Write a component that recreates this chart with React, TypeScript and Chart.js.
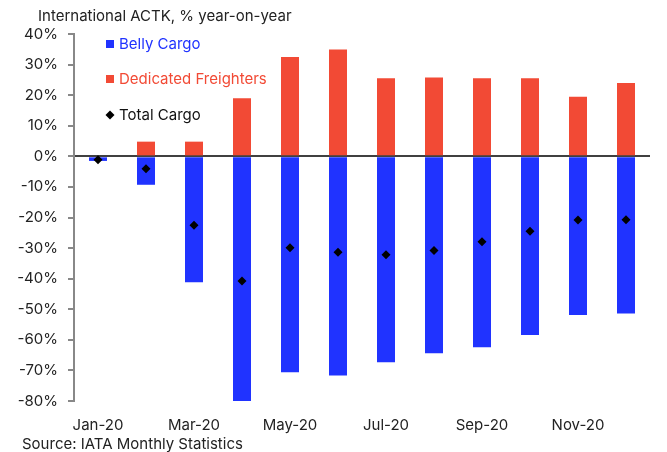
import React, { useEffect, useRef } from "react";
import { Chart, registerables } from "chart.js";

Chart.register(...registerables);

const categories = ["Jan-20", "Feb-20", "Mar-20", "Apr-20", "May-20", "Jun-20", "Jul-20", "Aug-20", "Sep-20", "Oct-20", "Nov-20", "Dec-20"];
const bellyCargo = [-1.5, -9.3, -41.2, -80.5, -70.6, -71.7, -67.3, -64.4, -62.4, -58.4, -51.9, -51.4];
const dedicatedFreighters = [0, 4.8, 4.8, 19.0, 32.5, 34.9, 25.5, 25.8, 25.5, 25.5, 19.5, 24.0];
const totalCargo = [-1.1, -4.1, -22.5, -40.8, -29.9, -31.4, -32.2, -30.8, -27.9, -24.5, -20.8, -20.7];

const titleText = "International ACTK, % year-on-year";
const sourceText = "Source: IATA Monthly Statistics";
const legendLabels = ["Belly Cargo", "Dedicated Freighters", "Total Cargo"];

const BLUE = "#2033ff";
const RED = "#f24a35";
const FONT = "Inter, 'Noto Sans', sans-serif";

const textPlugin = {
  id: "textPlugin",
  afterDraw(chart: any) {
    const ctx = chart.ctx;
    ctx.save();
    ctx.textBaseline = "middle";
    ctx.textAlign = "left";
    ctx.font = `15px ${FONT}`;
    ctx.fillStyle = "#222";
    ctx.fillText(titleText, 38, 16);
    ctx.fillText(sourceText, 22, 444);

    const items = [
      { label: legendLabels[0], color: BLUE, textColor: BLUE, y: 44, kind: "square" },
      { label: legendLabels[1], color: RED, textColor: RED, y: 79, kind: "square" },
      { label: legendLabels[2], color: "#000", textColor: "#111", y: 115, kind: "diamond" },
    ];
    for (const it of items) {
      ctx.fillStyle = it.color;
      if (it.kind === "square") {
        ctx.fillRect(106, it.y - 4, 8, 8);
      } else {
        ctx.beginPath();
        ctx.moveTo(110, it.y - 4.5);
        ctx.lineTo(114.5, it.y);
        ctx.lineTo(110, it.y + 4.5);
        ctx.lineTo(105.5, it.y);
        ctx.closePath();
        ctx.fill();
      }
      ctx.fillStyle = it.textColor;
      ctx.fillText(it.label, 119, it.y);
    }
    ctx.restore();
  },
};

export default function App() {
  const ref = useRef<HTMLCanvasElement>(null);
  useEffect(() => {
    if (!ref.current) return;
    const chart = new Chart(ref.current, {
      type: "bar",
      data: {
        labels: categories,
        datasets: [
          {
            type: "line",
            label: legendLabels[2],
            data: totalCargo,
            showLine: false,
            pointStyle: "rectRot",
            pointRadius: 4.5,
            pointBackgroundColor: "#000",
            pointBorderColor: "#000",
            pointBorderWidth: 0,
            order: 0,
          } as any,
          {
            label: legendLabels[0],
            data: bellyCargo,
            backgroundColor: BLUE,
            barPercentage: 0.375,
            categoryPercentage: 1,
            order: 1,
          },
          {
            label: legendLabels[1],
            data: dedicatedFreighters,
            backgroundColor: RED,
            barPercentage: 0.375,
            categoryPercentage: 1,
            order: 1,
          },
        ],
      },
      options: {
        responsive: false,
        animation: false,
        layout: { padding: { top: 34, right: 17, left: 0, bottom: 0 } },
        plugins: {
          legend: { display: false },
          tooltip: { enabled: false },
          title: { display: false },
        },
        scales: {
          x: {
            stacked: true,
            grid: { display: false },
            border: { display: false },
            ticks: {
              autoSkip: false,
              maxRotation: 0,
              padding: 7,
              color: "#222",
              font: { family: FONT, size: 15 },
              callback: (_v: any, i: number) => (i % 2 === 0 ? categories[i] : ""),
            },
            afterFit: (s: any) => {
              s.height = 51;
            },
          },
          y: {
            stacked: false,
            min: -80,
            max: 40,
            ticks: {
              stepSize: 10,
              padding: 10,
              color: "#222",
              font: { family: FONT, size: 15 },
              callback: (v: any) => `${v}%`,
            },
            grid: {
              color: (c: any) => (c.tick && c.tick.value === 0 ? "#404040" : "rgba(0,0,0,0)"),
              lineWidth: 2,
              tickColor: "#888",
              tickLength: 6,
              drawTicks: true,
            },
            border: { display: true, color: "#888", width: 2 },
            afterFit: (s: any) => {
              s.width = 74;
            },
          },
        },
      },
      plugins: [textPlugin],
    });
    return () => chart.destroy();
  }, []);
  return (
    <div style={{ position: "absolute", left: 0, top: 0, width: 667, height: 452, background: "#fff" }}>
      <canvas ref={ref} width={667} height={452} style={{ width: 667, height: 452 }} />
    </div>
  );
}
